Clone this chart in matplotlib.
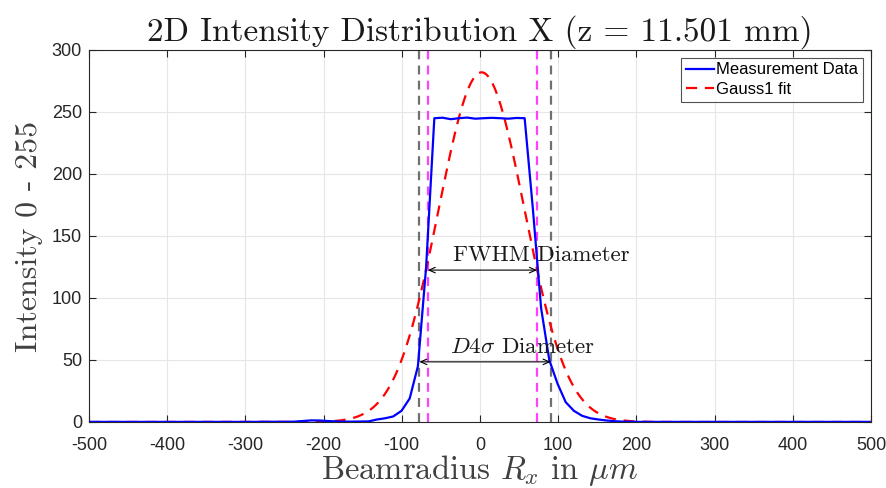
import numpy as np
import matplotlib
matplotlib.use("Agg")
import matplotlib.pyplot as plt

plt.rcParams["font.family"] = ["Liberation Sans", "DejaVu Sans"]
plt.rcParams["mathtext.fontset"] = "cm"
plt.rcParams["axes.unicode_minus"] = False

# Measurement profile: sample grid (um) and intensity values (0-255)
x_start, x_step, n_samples = -499.4, 10.5, 96
intensity = [
    0.1, 0.1, 0.1, 0.1, 0.1, 0.1, 0.1, 0.1, 0.1, 0.1,
    0.1, 0.1, 0.1, 0.1, 0.1, 0.1, 0.1, 0.1, 0.1, 0.1,
    0.1, 0.2, 0.2, 0.2, 0.2, 0.3, 0.8, 1.3, 1.2, 0.8,
    0.5, 0.3, 0.3, 0.4, 0.5, 2.0, 3.0, 4.5, 9.0, 19.0,
    45.0, 125.0,
    245.0, 245.4, 244.2, 245.0, 245.5, 244.6, 245.0, 245.3, 245.0, 244.6, 245.2, 245.0,
    172.0, 92.0, 50.0, 31.0, 16.0, 9.0, 5.0, 3.0, 2.0, 1.2,
    0.6, 0.3, 0.2, 0.1, 0.1, 0.1, 0.1, 0.1, 0.1, 0.1,
    0.1, 0.1, 0.1, 0.1, 0.1, 0.1, 0.1, 0.1, 0.1, 0.1,
    0.1, 0.1, 0.1, 0.1, 0.1, 0.1, 0.1, 0.1, 0.1, 0.1,
    0.1, 0.1,
]
x_meas = x_start + x_step * np.arange(n_samples)

# Gauss1 fit parameters: amplitude, centre (um), sigma (um)
gauss_amp, gauss_mu, gauss_sigma = 282.0, 2.0, 55.0

# Beam diameter borders (um) and the levels of their annotation arrows
d4s_left, d4s_right, d4s_level = -77.6, 90.4, 48.5
fwhm_left, fwhm_right, fwhm_level = -66.9, 72.9, 122.5

x_ticks = list(range(-500, 501, 100))
y_ticks = list(range(0, 301, 50))

x_fit = np.linspace(-500, 500, 1001)
y_fit = gauss_amp * np.exp(-((x_fit - gauss_mu) ** 2) / (2 * gauss_sigma ** 2))

dark = "#262626"
serif = ["cmr10", "DejaVu Serif"]

fig = plt.figure(figsize=(8.87, 4.88), dpi=100)
ax = fig.add_axes([89 / 887, 1 - 422 / 488, (871 - 89) / 887, (422 - 50) / 488])

ax.plot(x_meas, intensity, color="#0000ff", lw=1.6, label="Measurement Data", zorder=4)
ax.plot(x_fit, y_fit, color="#ff0000", lw=1.6, dashes=(5, 3.5), label="Gauss1 fit", zorder=3)

for xv in (d4s_left, d4s_right):
    ax.axvline(xv, color="#707070", lw=1.6, dashes=(4, 2.8), zorder=2)
for xv in (fwhm_left, fwhm_right):
    ax.axvline(xv, color="#ff40ff", lw=1.6, dashes=(4, 2.8), zorder=2)

arrow = dict(arrowstyle="<->,head_length=0.45,head_width=0.2", color="black",
             lw=0.8, shrinkA=0, shrinkB=0)
ax.annotate("", xy=(fwhm_left, fwhm_level), xytext=(fwhm_right, fwhm_level),
            arrowprops=arrow, zorder=5)
ax.annotate("", xy=(d4s_left, d4s_level), xytext=(d4s_right, d4s_level),
            arrowprops=arrow, zorder=5)
ax.text(-35, fwhm_level + 4, "FWHM Diameter", fontsize=16.5, family=serif,
        ha="left", va="bottom", color="#1a1a1a", zorder=6)
ax.text(-38, d4s_level + 4, r"$D4\sigma$ Diameter", fontsize=16.5, family=serif,
        ha="left", va="bottom", color="#1a1a1a", zorder=6)

ax.set_xlim(-500, 500)
ax.set_ylim(0, 300)
ax.set_xticks(x_ticks)
ax.set_yticks(y_ticks)
ax.set_xticklabels([str(v) for v in x_ticks])
ax.set_yticklabels([str(v) for v in y_ticks])
ax.tick_params(direction="in", length=5, width=0.8, colors=dark, labelsize=13,
               top=True, right=True)
ax.tick_params(axis="x", pad=11)
ax.tick_params(axis="y", pad=5)
ax.grid(True, color="#e6e6e6", lw=0.8)
ax.set_axisbelow(True)
for sp in ax.spines.values():
    sp.set_color(dark)
    sp.set_linewidth(0.8)

ax.set_title("2D Intensity Distribution X (z = 11.501 mm)", family=serif,
             fontsize=24, color="#1a1a1a", pad=7)
ax.set_xlabel(r"Beamradius $R_x$ in $\mu m$", family=serif, fontsize=23.5,
              color="#404040", labelpad=-1)
ax.set_ylabel("Intensity 0 - 255", family=serif, fontsize=23, color="#404040",
              labelpad=6)

leg = ax.legend(loc="upper right", fontsize=12, frameon=True, fancybox=False,
                handlelength=1.7, borderpad=0.3, labelspacing=0.25,
                handletextpad=0.15, borderaxespad=0.45)
leg.get_frame().set_edgecolor(dark)
leg.get_frame().set_linewidth(0.8)

fig.savefig("out.png", dpi=100)
